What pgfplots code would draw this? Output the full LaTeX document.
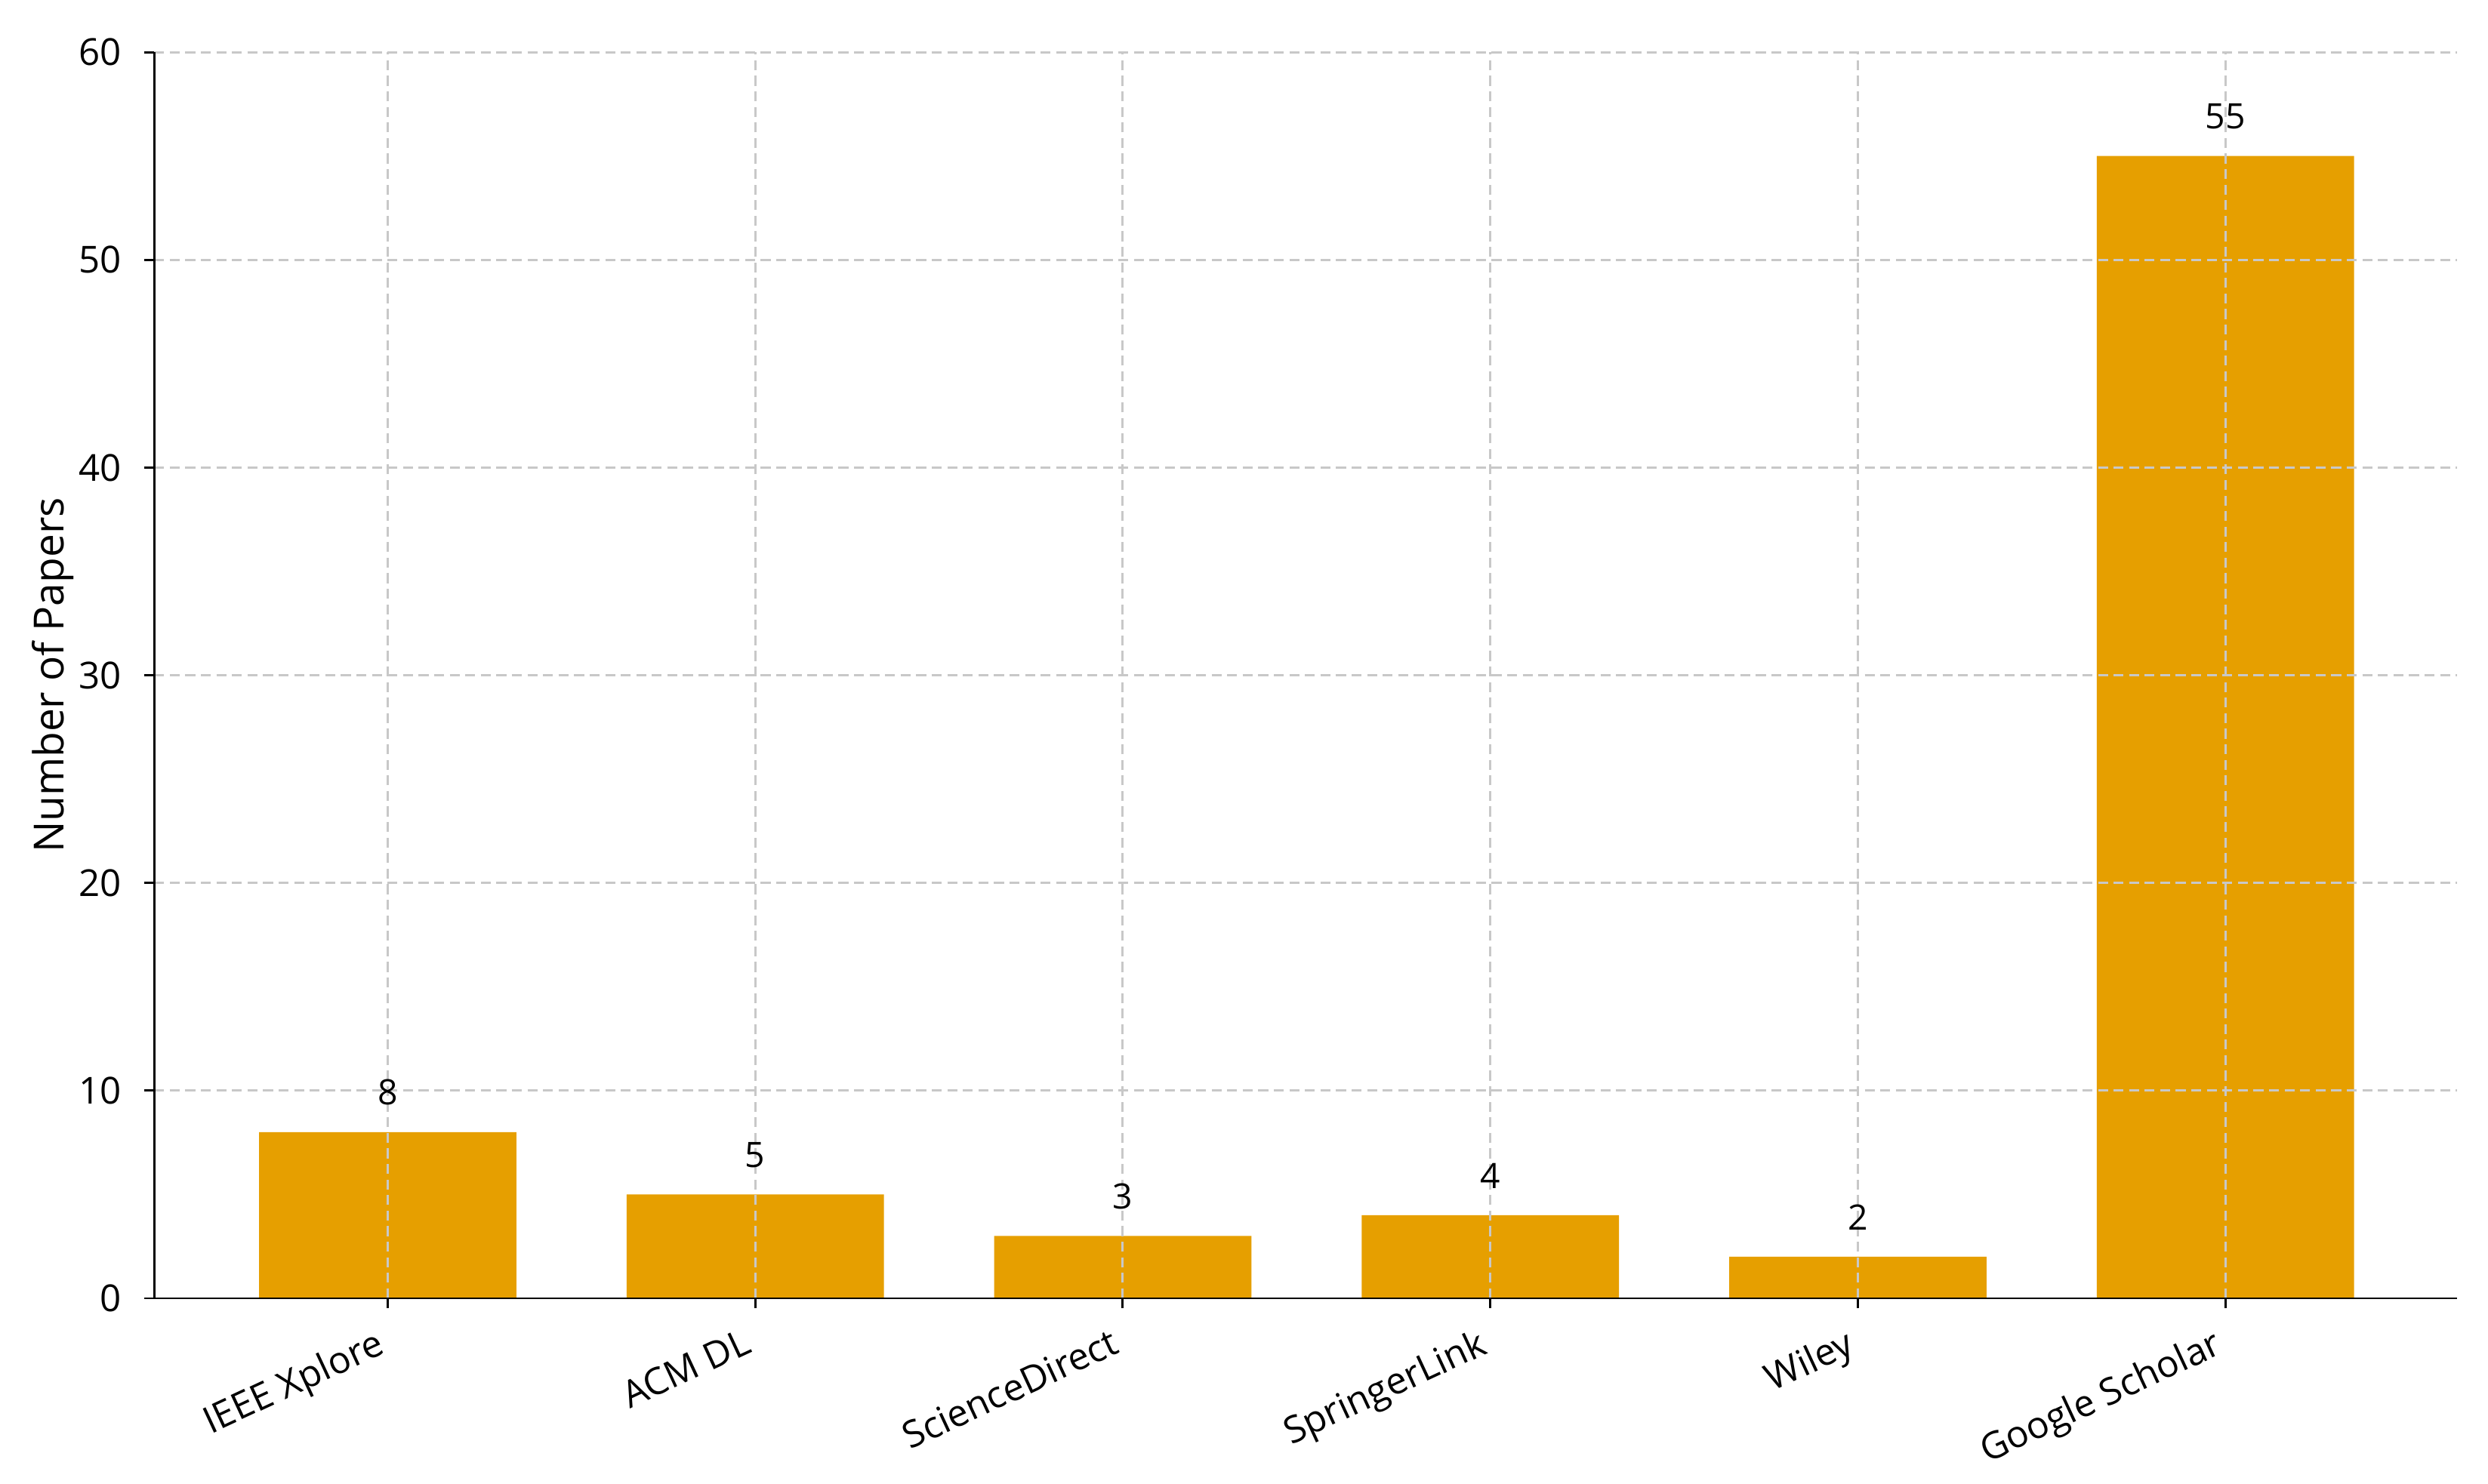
\documentclass[border=0pt]{standalone}
\usepackage{fontspec}
\setmainfont{Open Sans}
\usepackage{pgfplots}
\pgfplotsset{compat=1.18}
\definecolor{barorange}{RGB}{230,159,0}
\definecolor{gridgray}{RGB}{200,200,200}

\begin{document}
\begin{tikzpicture}
\begin{axis}[
  scale only axis,
  width=18.51cm, height=10.02cm,
  ybar, bar width=0.7,
  xmin=-0.635, xmax=5.63,
  ymin=0, ymax=60,
  ytick={0,10,20,30,40,50,60},
  xtick={0,1,2,3,4,5},
  xticklabels={IEEE Xplore, ACM DL, ScienceDirect, SpringerLink, Wiley, Google Scholar},
  axis x line*=bottom, axis y line*=left,
  axis line style={black, line width=0.5pt},
  tick style={black, line width=0.5pt},
  tick align=outside,
  major tick length=0.08cm,
  xtick pos=bottom, ytick pos=left,
  xmajorgrids, ymajorgrids,
  major grid style={gridgray, line width=0.5pt, dash pattern=on 0.08cm off 0.045cm},
  axis on top,
  /pgf/number format/assume math mode=true,
  ticklabel style={font=\fontsize{8.5}{10}\selectfont},
  yticklabel style={xshift=-0.06cm},
  xticklabel style={rotate=25, anchor=north east, inner sep=1pt, yshift=-0.05cm, xshift=-0.12cm},
  ylabel={Number of Papers},
  ylabel style={font=\fontsize{9.5}{11}\selectfont, at={(axis description cs:-0.044,0.5)}, anchor=center},
  nodes near coords,
  every node near coord/.append style={font=\fontsize{8}{10}\selectfont, anchor=south, inner sep=0pt, yshift=0.21cm, black},
]
\addplot[draw=none, fill=barorange] coordinates {(0,8) (1,5) (2,3) (3,4) (4,2) (5,55)};
\coordinate (sw) at (rel axis cs:0,0);
\coordinate (ne) at (rel axis cs:1,1);
\end{axis}
\pgfresetboundingbox
\path[use as bounding box] ([xshift=-1.24cm,yshift=-1.49cm]sw) rectangle ([xshift=0.25cm,yshift=0.42cm]ne);
\end{tikzpicture}
\end{document}
